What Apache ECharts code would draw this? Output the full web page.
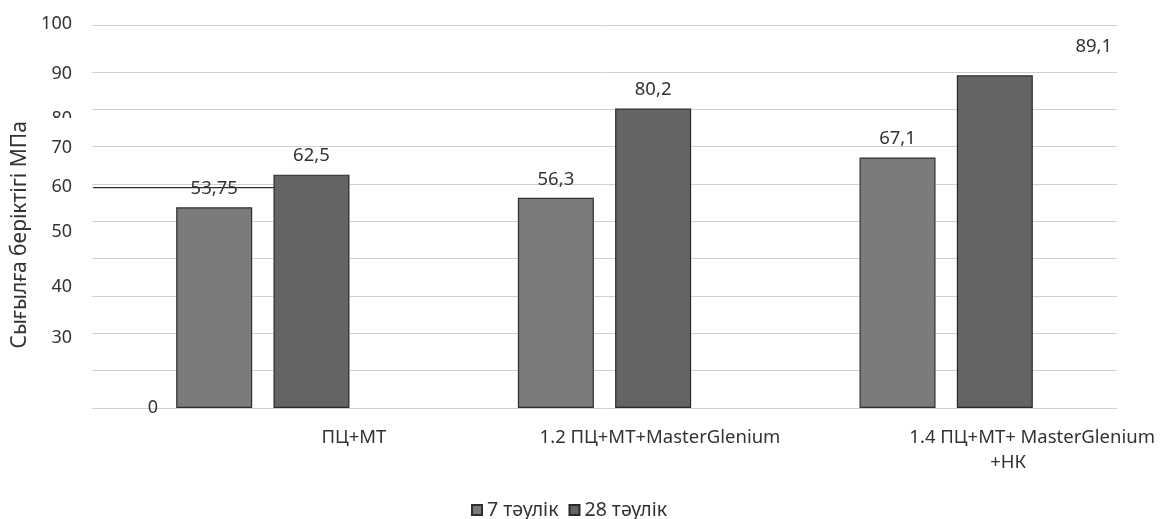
<!DOCTYPE html>
<html>
<head>
<meta charset="utf-8">
<script src="https://cdn.jsdelivr.net/npm/echarts@6/dist/echarts.min.js"></script>
<style>
  html, body { margin: 0; padding: 0; background: #ffffff; }
  #chart { width: 1165px; height: 519px; }
</style>
</head>
<body>
<div id="chart"></div>
<script>
// ---- data ----
const categories = ['ПЦ+МТ', '1.2 ПЦ+МТ+MasterGlenium', '1.4 ПЦ+МТ+ MasterGlenium\n+НК'];
const seriesNames = ['7 тәулік', '28 тәулік'];
const days7 = [53.75, 56.3, 67.1];
const days28 = [62.5, 80.2, 89.1];
const yAxisTitle = 'Сығылға беріктігі МПа';
const gridValues = [0, 10, 20, 30, 40, 50, 60, 70, 80, 90, 102.6];
const yTickLabels = ['100', '90', '80', '70', '60', '50', '40', '30'];
const yTickAt = [103.0, 89.6, 77.4, 69.8, 59.3, 47.3, 32.5, 18.9];
const zeroLabel = '0';
const darkLineValue = 59;
const clippedLabelValue = 77.4;

// ---- chart ----
const FONT = 'Noto Sans';
const TXT = '#333333';
const chart = echarts.init(document.getElementById('chart'), null, { renderer: 'canvas' });

const fmt = v => String(v).replace('.', ',');
const xOffsets = [[182], [111], [172, 124]];
const rich = {};
xOffsets.forEach((arr, i) => arr.forEach((p, j) => {
  rich['c' + i + '_' + j] = { padding: [0, 0, 0, p], fontSize: 18.5, fontFamily: FONT, color: TXT, lineHeight: 25 };
}));

const yAxisBase = { type: 'value', min: 0, max: 104, axisLine: { show: false }, axisTick: { show: false }, splitLine: { show: false } };
const xAxisBase = { type: 'category', data: categories, axisLine: { show: false }, axisTick: { show: false } };
const dataLabel = { show: true, position: 'top', distance: 9, fontSize: 18.5, color: TXT, fontFamily: FONT, formatter: p => fmt(p.value) };
const halo = { color: '#ffffff', borderColor: '#ffffff', borderWidth: 6 };

chart.setOption({
  animation: false,
  backgroundColor: '#ffffff',
  textStyle: { fontFamily: FONT },
  grid: { left: 92, right: 48, top: 19.7, bottom: 111, containLabel: false, outerBoundsMode: 'none' },
  legend: {
    data: seriesNames, left: 466, top: 495, icon: 'rect', itemWidth: 10, itemHeight: 10, itemGap: 10,
    textStyle: { fontSize: 19.5, color: TXT, fontFamily: FONT }
  },
  xAxis: [
    Object.assign({}, xAxisBase, {
      axisLabel: {
        interval: 0, margin: 17, rich: rich,
        formatter: (value, index) => value.split('\n').map((line, j) => '{c' + index + '_' + j + '|' + line + '}').join('\n')
      }
    }),
    Object.assign({}, xAxisBase, { position: 'bottom', axisLabel: { show: false } })
  ],
  yAxis: [
    Object.assign({}, yAxisBase, {
      axisLabel: { show: false },
      axisTick: { show: false, customValues: gridValues },
      splitLine: { show: true, lineStyle: { color: '#d0d0d0', width: 1 } }
    }),
    Object.assign({}, yAxisBase, {
      position: 'left',
      name: yAxisTitle, nameLocation: 'middle', nameGap: 60, nameRotate: 90,
      nameTextStyle: { fontSize: 21, color: TXT, fontFamily: FONT, padding: [0, 42, 0, 0] },
      axisLabel: {
        customValues: yTickAt, margin: 20, fontSize: 18, color: TXT, fontFamily: FONT,
        formatter: v => {
          let best = 0;
          yTickAt.forEach((t, i) => { if (Math.abs(t - v) < Math.abs(yTickAt[best] - v)) best = i; });
          return yTickLabels[best];
        }
      }
    }),
    Object.assign({}, yAxisBase, {
      position: 'left', offset: -66,
      axisLabel: { customValues: [0], margin: 0, fontSize: 18, color: TXT, fontFamily: FONT, formatter: () => zeroLabel }
    })
  ],
  series: [
    // white halo under the bars (hides gridlines right next to them)
    { name: 'halo7', type: 'bar', xAxisIndex: 1, yAxisIndex: 0, data: days7, barWidth: 76, barGap: '28%', z: 1, silent: true, itemStyle: halo },
    { name: 'halo28', type: 'bar', xAxisIndex: 1, yAxisIndex: 0, data: days28, barWidth: 76, z: 1, silent: true, itemStyle: halo },
    {
      name: seriesNames[0], type: 'bar', xAxisIndex: 0, yAxisIndex: 0, data: days7, barWidth: 76, barGap: '28%', z: 3,
      itemStyle: { color: '#7b7b7b', borderColor: '#2f2f2f', borderWidth: 1.2 },
      label: dataLabel
    },
    {
      name: seriesNames[1], type: 'bar', xAxisIndex: 0, yAxisIndex: 0, z: 3,
      data: days28.map((v, i) => i === 2 ? { value: v, label: { offset: [99, -10] } } : v),
      barWidth: 76,
      itemStyle: { color: '#646464', borderColor: '#2a2a2a', borderWidth: 1.2 },
      label: dataLabel
    }
  ]
});

// decorations derived from the axes
const yDark = chart.convertToPixel({ yAxisIndex: 0 }, darkLineValue);
const xCat0 = chart.convertToPixel({ xAxisIndex: 0 }, categories[0]);
const y80 = chart.convertToPixel({ yAxisIndex: 1 }, clippedLabelValue);
chart.setOption({
  graphic: [
    { type: 'line', z: 2, shape: { x1: 93, y1: yDark, x2: xCat0 + 20, y2: yDark }, style: { stroke: '#2f2f2f', lineWidth: 1.2 } },
    { type: 'rect', z: 100, shape: { x: 40, y: y80 - 1, width: 40, height: 13 }, style: { fill: '#ffffff' } }
  ]
});
</script>
</body>
</html>
